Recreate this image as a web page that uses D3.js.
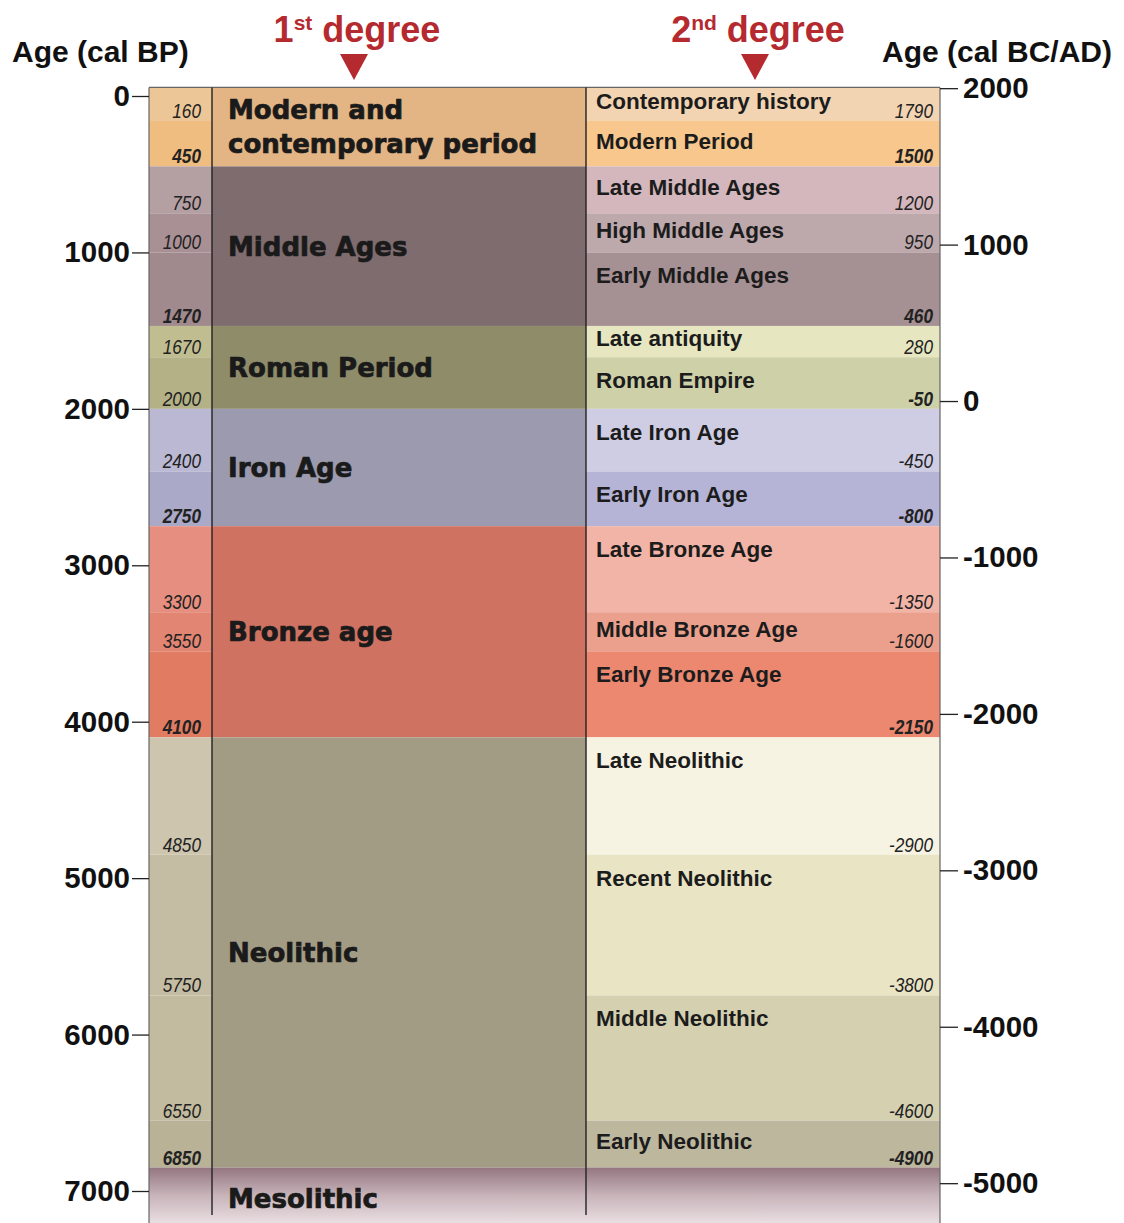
<!DOCTYPE html>
<html>
<head>
  <meta charset="utf-8">
  <title>Chronology</title>
  <script src="https://d3js.org/d3.v7.min.js"></script>
  <style>
    body { margin: 0; background: #fff; }
    svg text { font-family: "Liberation Sans", Arial, sans-serif; }
    .axis path { display: none; }
    .axis line { stroke: #222; stroke-width: 1.3; }
    .axis text { font-size: 29.5px; font-weight: bold; fill: #111; }
  </style>
</head>
<body>
<svg id="chart" width="1124" height="1223"></svg>
<script>

// first degree periods, lower bound in cal BP
var periods = ["Modern and contemporary period", "Middle Ages", "Roman Period", "Iron Age", "Bronze age", "Neolithic", "Mesolithic"];
var periodEnds = [450, 1470, 2000, 2750, 4100, 6850, 7250];
var periodColors = ["#e3b584", "#7f6c6e", "#8e8c69", "#9b9aaf", "#d07261", "#a39c84", "url(#meso)"];

// second degree periods
var subPeriods = ["Contemporary history", "Modern Period", "Late Middle Ages", "High Middle Ages", "Early Middle Ages",
  "Late antiquity", "Roman Empire", "Late Iron Age", "Early Iron Age", "Late Bronze Age", "Middle Bronze Age",
  "Early Bronze Age", "Late Neolithic", "Recent Neolithic", "Middle Neolithic", "Early Neolithic"];
var subEndsBP = [160, 450, 750, 1000, 1470, 1670, 2000, 2400, 2750, 3300, 3550, 4100, 4850, 5750, 6550, 6850];
var subEndsAD = [1790, 1500, 1200, 950, 460, 280, -50, -450, -800, -1350, -1600, -2150, -2900, -3800, -4600, -4900];
var bpBold = [0, 1, 0, 0, 1, 0, 0, 0, 1, 0, 0, 1, 0, 0, 0, 1];
var adBold = [0, 1, 0, 0, 1, 0, 1, 0, 1, 0, 0, 1, 0, 0, 0, 1];
var subColors = ["#f2d4b3", "#f8c78d", "#d3b7bc", "#bda8ab", "#a59093", "#e6e7c0", "#ced1a7", "#cfcde4", "#b6b4d6",
  "#f2b4a7", "#eb9f8d", "#ec8870", "#f6f3e2", "#e8e4c4", "#d4d0b0", "#bcb79d"];
var stripColors = ["#ecc697", "#f0bd80", "#b49fa3", "#a99095", "#a08a8e", "#c0be90", "#b3b185", "#bab8d2", "#aaa9c8",
  "#e68e7f", "#e28573", "#e17c63", "#cdc5ae", "#c4bda3", "#c2bb9f", "#b9b297"];

var bpTicks = [0, 1000, 2000, 3000, 4000, 5000, 6000, 7000];
var adTicks = [2000, 1000, 0, -1000, -2000, -3000, -4000, -5000];

var topBP = -55; // chart starts at about AD 2000

var xLeft = 149, xStrip = 212, xMid = 586, xRight = 940;

var svg = d3.select("#chart");

var y = d3.scaleLinear().domain([0, 7000]).range([96, 1191]);
var yAD = d3.scaleLinear().domain([1950, 1950 - 7000]).range([96, 1191]);

var defs = svg.append("defs");
var grad = defs.append("linearGradient").attr("id", "meso")
  .attr("x1", 0).attr("x2", 0).attr("y1", 0).attr("y2", 1);
grad.append("stop").attr("offset", "0%").attr("stop-color", "#947680");
grad.append("stop").attr("offset", "45%").attr("stop-color", "#c8b4ba");
grad.append("stop").attr("offset", "100%").attr("stop-color", "#f1e9eb");

// build bands
var pData = periods.map(function(name, i) {
  return { name: name, start: i ? periodEnds[i - 1] : topBP, end: periodEnds[i], color: periodColors[i] };
});
var sData = subPeriods.map(function(name, i) {
  return { name: name, start: i ? subEndsBP[i - 1] : topBP, end: subEndsBP[i], ad: subEndsAD[i],
    color: subColors[i], strip: stripColors[i], bpBold: bpBold[i], adBold: adBold[i] };
});
var meso = pData[pData.length - 1];

// left strip
svg.append("g").selectAll("rect").data(sData).enter().append("rect")
  .attr("x", xLeft).attr("width", xStrip - xLeft)
  .attr("y", function(d) { return y(d.start); })
  .attr("height", function(d) { return y(d.end) - y(d.start); })
  .attr("fill", function(d) { return d.strip; });

// first degree column
svg.append("g").selectAll("rect").data(pData).enter().append("rect")
  .attr("x", xStrip).attr("width", xMid - xStrip)
  .attr("y", function(d) { return y(d.start); })
  .attr("height", function(d) { return y(d.end) - y(d.start); })
  .attr("fill", function(d) { return d.color; });

// second degree column
svg.append("g").selectAll("rect").data(sData).enter().append("rect")
  .attr("x", xMid).attr("width", xRight - xMid)
  .attr("y", function(d) { return y(d.start); })
  .attr("height", function(d) { return y(d.end) - y(d.start); })
  .attr("fill", function(d) { return d.color; });

// mesolithic across the strip and the 2nd column
[[xLeft, xStrip], [xMid, xRight]].forEach(function(c) {
  svg.append("rect")
    .attr("x", c[0]).attr("width", c[1] - c[0])
    .attr("y", y(meso.start)).attr("height", y(meso.end) - y(meso.start))
    .attr("fill", "url(#meso)");
});

// frame
svg.append("line").attr("x1", xLeft).attr("x2", xRight).attr("y1", y(topBP)).attr("y2", y(topBP))
  .attr("stroke", "#666").attr("stroke-width", 1.2);
[xLeft, xRight].forEach(function(x) {
  svg.append("line").attr("x1", x).attr("x2", x).attr("y1", y(topBP)).attr("y2", 1223)
    .attr("stroke", "#666").attr("stroke-width", 1.2);
});
[xStrip, xMid].forEach(function(x) {
  svg.append("line").attr("x1", x).attr("x2", x).attr("y1", y(topBP)).attr("y2", 1215)
    .attr("stroke", "#222").attr("stroke-width", 1.4);
});

// condensed italic numbers (narrow font is not installed, so squeeze them)
function numbers(xEnd, value, bold) {
  svg.append("g").selectAll("text").data(sData).enter().append("text")
    .attr("transform", function(d) { return "translate(" + xEnd + "," + (y(d.end) - 3) + ") scale(0.82,1)"; })
    .attr("text-anchor", "end")
    .style("font-style", "italic").style("font-size", "21px")
    .style("font-weight", function(d) { return d[bold] ? "bold" : "normal"; })
    .attr("fill", "#222")
    .text(function(d) { return d[value]; });
}
numbers(xStrip - 11, "end", "bpBold");
numbers(xRight - 7, "ad", "adBold");

// second degree labels
svg.append("g").selectAll("text").data(sData).enter().append("text")
  .attr("x", xMid + 10)
  .attr("y", function(d) {
    var top = y(d.start), mid = (y(d.start) + y(d.end)) / 2;
    return Math.min(mid - 3, top + 23);
  })
  .attr("dy", "0.35em")
  .style("font-size", "22.5px").style("font-weight", "bold").attr("fill", "#1c1c1c")
  .text(function(d) { return d.name; });

// first degree labels
var pLabels = svg.append("g").selectAll("text").data(pData).enter().append("text")
  .attr("x", xStrip + 16)
  .attr("y", function(d) { return (y(d.start) + y(d.end)) / 2; })
  .style("font-family", "'DejaVu Sans', sans-serif")
  .style("font-size", "26px").style("font-weight", "bold")
  .attr("fill", "#1a1a1a").attr("stroke", "#1a1a1a").attr("stroke-width", 0.7);
pLabels.each(function(d) {
  var lines = d.name === "Modern and contemporary period" ? ["Modern and", "contemporary period"] : [d.name];
  var t = d3.select(this);
  lines.forEach(function(l, i) {
    t.append("tspan").attr("x", xStrip + 16)
      .attr("dy", i === 0 ? (0.36 - (lines.length - 1) * 0.65) + "em" : "1.3em")
      .text(l);
  });
});

// axes
svg.append("g").attr("class", "axis")
  .attr("transform", "translate(" + xLeft + ",0)")
  .call(d3.axisLeft(y).tickValues(bpTicks).tickSize(17).tickPadding(2).tickFormat(function(d) { return String(d); }));

svg.append("g").attr("class", "axis")
  .attr("transform", "translate(" + xRight + ",0)")
  .call(d3.axisRight(yAD).tickValues(adTicks).tickSize(18).tickPadding(5).tickFormat(function(d) { return String(d); }));

// header
svg.append("text").attr("x", 12).attr("y", 62)
  .style("font-size", "30px").style("font-weight", "bold").attr("fill", "#111")
  .text("Age (cal BP)");
svg.append("text").attr("x", 1112).attr("y", 62).attr("text-anchor", "end")
  .style("font-size", "30px").style("font-weight", "bold").attr("fill", "#111")
  .text("Age (cal BC/AD)");

var red = "#b52a2f";
[["1", "st", 357], ["2", "nd", 758]].forEach(function(h) {
  var t = svg.append("text").attr("x", h[2]).attr("y", 42).attr("text-anchor", "middle")
    .style("font-size", "36px").style("font-weight", "bold").attr("fill", red);
  t.append("tspan").text(h[0]);
  t.append("tspan").attr("dy", -12).style("font-size", "21px").text(h[1]);
  t.append("tspan").attr("dy", 12).text(" degree");
  var cx = h[2] - 3;
  svg.append("path")
    .attr("d", "M" + (cx - 14) + ",54L" + (cx + 14) + ",54L" + cx + ",80Z")
    .attr("fill", red);
});

</script>
</body>
</html>
